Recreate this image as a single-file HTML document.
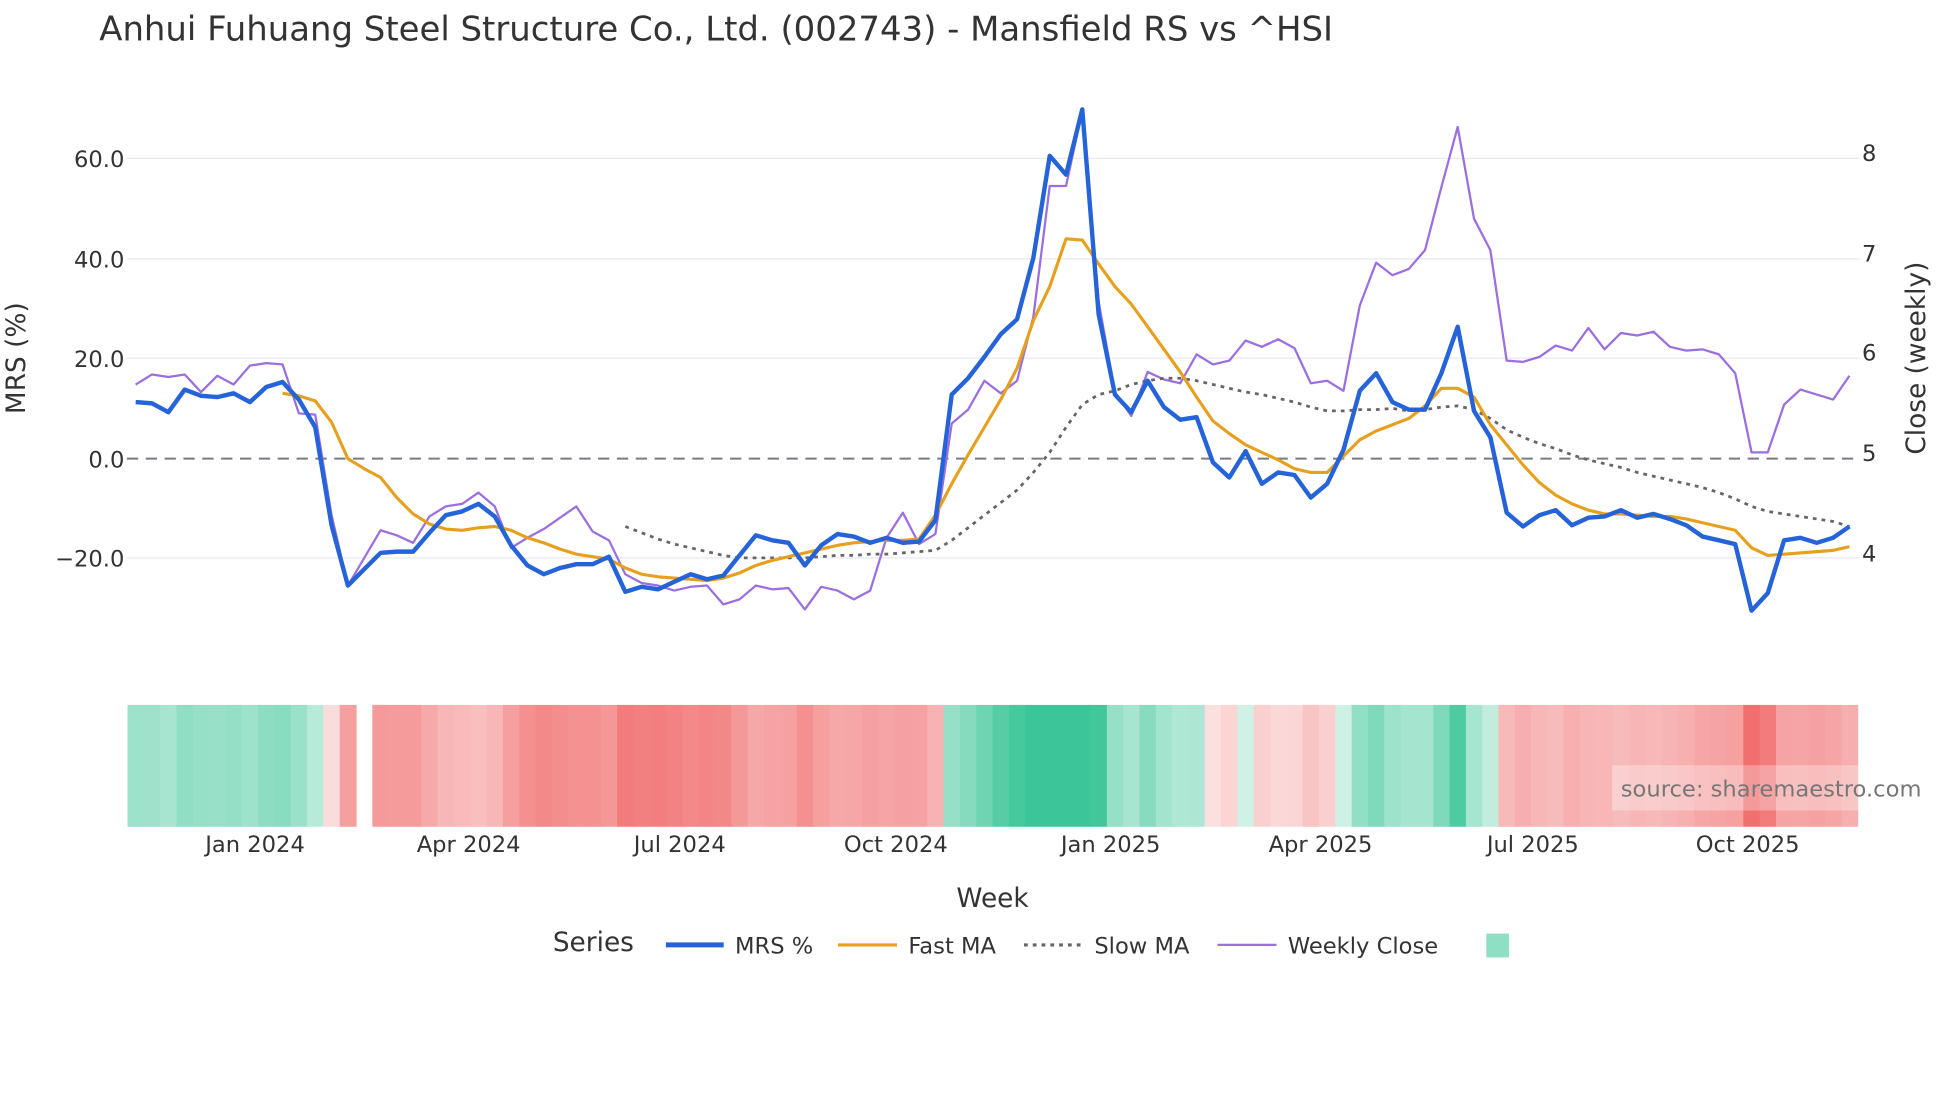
<!DOCTYPE html>
<html><head><meta charset="utf-8"><style>
html,body{margin:0;padding:0;background:#fff;}
svg{display:block;font-family:"DejaVu Sans","Liberation Sans",sans-serif;}
</style></head><body>
<svg id="s" width="1960" height="1102" viewBox="0 0 1560 877" xmlns="http://www.w3.org/2000/svg">
<rect width="1560" height="877" fill="#fff"/>
<g id="heat"></g>
<g stroke="#e9e9f0" stroke-width="1">
<line x1="101" x2="1480" y1="126" y2="126"/><line x1="101" x2="1480" y1="206" y2="206"/>
<line x1="101" x2="1480" y1="285" y2="285"/><line x1="101" x2="1480" y1="444" y2="444"/>
</g>
<line x1="101" x2="1480" y1="365" y2="365" stroke="#7a7a85" stroke-width="1.6" stroke-dasharray="9,6"/>
<g id="lines"></g>
<text x="79" y="32" font-size="27" fill="#333">Anhui Fuhuang Steel Structure Co., Ltd. (002743) - Mansfield RS vs ^HSI</text>
<g font-size="18" fill="#333" text-anchor="end">
<text x="99" y="133">60.0</text><text x="99" y="213">40.0</text><text x="99" y="292">20.0</text>
<text x="99" y="372">0.0</text><text x="99" y="451">−20.0</text>
</g>
<g font-size="18" fill="#333">
<text x="1482" y="128">8</text><text x="1482" y="208">7</text><text x="1482" y="287">6</text>
<text x="1482" y="367">5</text><text x="1482" y="447">4</text>
</g>
<text transform="translate(20,285) rotate(-90)" font-size="21" fill="#333" text-anchor="middle">MRS (%)</text>
<text transform="translate(1532,285) rotate(-90)" font-size="21" fill="#333" text-anchor="middle">Close (weekly)</text>
<g font-size="18" fill="#333" text-anchor="middle">
<text x="203" y="678">Jan 2024</text><text x="373" y="678">Apr 2024</text><text x="541" y="678">Jul 2024</text>
<text x="713" y="678">Oct 2024</text><text x="884" y="678">Jan 2025</text><text x="1051" y="678">Apr 2025</text>
<text x="1220" y="678">Jul 2025</text><text x="1391" y="678">Oct 2025</text>
</g>
<text x="790" y="722" font-size="21" fill="#333" text-anchor="middle">Week</text>
<rect x="1283" y="609" width="277" height="36" fill="#fff" opacity="0.3"/>
<text x="1290" y="634" font-size="18" fill="#777">source: sharemaestro.com</text>
<g font-size="18" fill="#333">
<text x="440" y="757" font-size="21">Series</text>
<line x1="530" x2="576" y1="752" y2="752" stroke="#2563d9" stroke-width="4"/><text x="585" y="759">MRS %</text>
<line x1="667" x2="714" y1="752" y2="752" stroke="#e6a01e" stroke-width="2.5"/><text x="723" y="759">Fast MA</text>
<line x1="815" x2="860" y1="752" y2="752" stroke="#666" stroke-width="2.5" stroke-dasharray="3,4"/><text x="871" y="759">Slow MA</text>
<line x1="969" x2="1016" y1="752" y2="752" stroke="#9b6fe0" stroke-width="1.8"/><text x="1025" y="759">Weekly Close</text>
<rect x="1183" y="743" width="18" height="19" fill="#8fdfc4"/>
</g>
</svg>
<script>
var mrs=[320,321,328,310,315,316,313,320,308,304,318,340,418,466,453,440,439,439,424,410,407,401,411,434,450,457,452,449,449,443,471,467,469,463,457,461,458,442,426,430,432,450,434,425,427,432,428,432,431,414,314,301,284,266,254,205,124,139,87,250,314,328,303,324,334,332,368,380,359,385,376,378,396,385,358,311,297,320,326,326,297,260,327,348,408,419,410,406,418,412,411,406,412,409,413,418,427,430,433,486,472,430,428,432,428,419];
var cls=[306,298,300,298,312,299,306,291,289,290,329,330,410,466,444,422,426,432,411,403,401,392,403,436,428,421,412,403,423,430,457,464,466,470,467,466,481,477,466,469,468,485,467,470,477,470,428,408,433,425,337,326,303,313,303,252,148,148,88,240,312,331,296,302,305,282,290,287,271,276,270,277,305,303,311,243,209,219,214,199,149,101,174,199,287,288,284,275,279,261,278,265,267,264,276,279,278,282,297,360,360,322,310,314,318,299];
var fast=[313,315,319,336,365,373,380,396,409,417,421,422,420,419,422,428,432,437,441,443,445,452,457,459,460,461,462,460,456,450,446,443,440,437,434,432,431,430,430,429,410,385,362,340,318,293,255,228,190,191,210,228,242,260,278,296,316,335,345,354,360,366,373,376,376,363,350,343,338,333,323,309,309,316,338,354,370,384,394,401,406,409,409,410,411,411,413,416,419,422,436,442,441,440,439,438,435];
var slow=[419,424,429,433,436,439,442,444,444,444,444,444,443,442,442,441,441,440,439,438,430,420,410,400,390,376,360,340,322,314,311,306,303,301,301,303,306,309,312,314,317,320,324,327,327,326,326,325,327,326,324,323,326,333,342,348,353,357,362,366,369,372,376,379,382,385,388,392,397,403,407,409,411,413,415,419];
var dx=(1472-108)/105;
function X(i){return 108+dx*i;}
function pts(a,o){return a.map(function(y,k){return X(k+o).toFixed(1)+","+y}).join(" ");}
var NS="http://www.w3.org/2000/svg";
function pl(a,o,c,w,d){var p=document.createElementNS(NS,"polyline");p.setAttribute("points",pts(a,o));p.setAttribute("fill","none");p.setAttribute("stroke",c);p.setAttribute("stroke-width",w);p.setAttribute("stroke-linejoin","round");if(d)p.setAttribute("stroke-dasharray",d);document.getElementById("lines").appendChild(p);}
pl(cls,0,"#9b6fe0",1.8);
pl(slow,30,"#666",2.2,"3,4");
pl(fast,9,"#e6a01e",2.5);
pl(mrs,0,"#2563d9",3.5);
var h=document.getElementById("heat");
function mix(c,t){return "rgb("+c.map(function(v){return Math.round(255+(v-255)*t)}).join(",")+")";}
for(var i=0;i<106;i++){ if(i==14)continue;
 var v=(365-mrs[i])/3.97; var t=Math.min(Math.abs(v)/30,1)*0.72+0.18;
 if(i==12) t=0.22; if(i==13) t=0.6;
 var r=document.createElementNS(NS,"rect");
 var x0=Math.max(101,X(i)-dx/2), x1=Math.min(1480,X(i)+dx/2);
 r.setAttribute("x",x0.toFixed(2));r.setAttribute("width",(x1-x0+0.5).toFixed(2));
 r.setAttribute("y",561);r.setAttribute("height",97);r.setAttribute("fill",mix(v>=0?[38,191,140]:[239,95,95],t));h.appendChild(r);}
</script>
</body></html>
